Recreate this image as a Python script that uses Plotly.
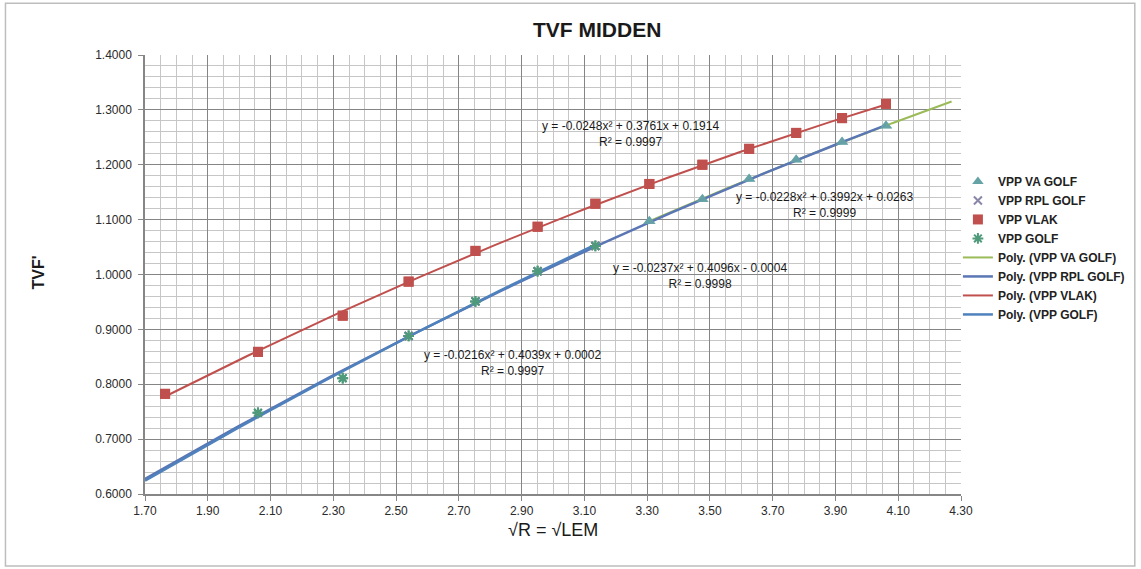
import numpy as np
import plotly.graph_objects as go

# ---- data ----
vlak_x = [1.764, 2.060, 2.330, 2.540, 2.753, 2.951, 3.135, 3.307, 3.476, 3.625, 3.775, 3.921, 4.061]
vlak_y = [0.7825, 0.859, 0.925, 0.987, 1.043, 1.087, 1.129, 1.165, 1.200, 1.229, 1.258, 1.285, 1.311]

golf_x = [2.060, 2.330, 2.540, 2.753, 2.951, 3.135]
golf_y = [0.748, 0.811, 0.888, 0.951, 1.006, 1.052]

rpl_x = [2.540, 2.753, 2.951, 3.135]
rpl_y = [0.888, 0.951, 1.006, 1.052]

va_x = [3.307, 3.476, 3.625, 3.775, 3.921, 4.061]
va_y = [1.097, 1.137, 1.174, 1.209, 1.2415, 1.271]

# trendline coefficients as printed on the chart (a, b, c for ax^2+bx+c)
coef_vlak = [-0.0248, 0.3761, 0.1914]
coef_va = [-0.0228, 0.3992, 0.0263]
coef_rpl = [-0.0237, 0.4096, -0.0004]
coef_golf = [-0.0216, 0.4039, 0.0002]
r2_vlak, r2_va, r2_rpl, r2_golf = "0.9997", "0.9999", "0.9998", "0.9997"

# trendline x ranges
rng_vlak = (1.764, 4.061)
rng_va = (3.307, 4.27)
rng_rpl = (1.70, 4.061)
rng_golf = (1.70, 3.135)

x_ticks = [1.70, 1.90, 2.10, 2.30, 2.50, 2.70, 2.90, 3.10, 3.30, 3.50, 3.70, 3.90, 4.10, 4.30]


def curve(coef, rng):
    xs = np.linspace(rng[0], rng[1], 80)
    return xs, np.polyval(coef, xs)


C_VA = "#9BBB59"
C_RPL = "#5A76B4"
C_VLAK = "#C0504D"
C_GOLF = "#4F81BD"
C_TRI = "#66A3A6"
FONT = "Liberation Sans, Arial, sans-serif"

fig = go.Figure()

# marker series (legend order)
fig.add_trace(go.Scatter(x=va_x, y=va_y, mode="markers", name="<b>VPP VA GOLF</b>",
                         marker=dict(symbol="triangle-up", size=10, color=C_TRI)))
fig.add_trace(go.Scatter(x=rpl_x, y=rpl_y, mode="markers", name="<b>VPP RPL GOLF</b>",
                         marker=dict(symbol="x-thin", size=8, line=dict(width=2, color="#8A86AA"), color="#8A86AA")))
fig.add_trace(go.Scatter(x=vlak_x, y=vlak_y, mode="markers", name="<b>VPP VLAK</b>",
                         marker=dict(symbol="square", size=10, color=C_VLAK)))
fig.add_trace(go.Scatter(x=golf_x, y=golf_y, mode="markers", name="<b>VPP GOLF</b>",
                         marker=dict(symbol="asterisk", size=9, line=dict(width=2, color="#4E9A7A"), color="#4E9A7A")))

# trendlines
for coef, rng, col, nm, w in [
    (coef_va, rng_va, C_VA, "VPP VA GOLF", 2),
    (coef_rpl, rng_rpl, C_RPL, "VPP RPL GOLF", 2.5),
    (coef_vlak, rng_vlak, C_VLAK, "VPP VLAK", 2),
    (coef_golf, rng_golf, C_GOLF, "VPP GOLF", 2.5),
]:
    xs, ys = curve(coef, rng)
    fig.add_trace(go.Scatter(x=xs, y=ys, mode="lines", name="<b>Poly. (" + nm + ")</b>",
                             line=dict(color=col, width=w)))

# redraw markers on top of lines (not in legend)
fig.add_trace(go.Scatter(x=va_x, y=va_y, mode="markers", showlegend=False,
                         marker=dict(symbol="triangle-up", size=11, color=C_TRI, opacity=0.9)))
fig.add_trace(go.Scatter(x=rpl_x, y=rpl_y, mode="markers", showlegend=False,
                         marker=dict(symbol="x-thin", size=8, line=dict(width=2, color="#8A86AA"))))
fig.add_trace(go.Scatter(x=vlak_x, y=vlak_y, mode="markers", showlegend=False,
                         marker=dict(symbol="square", size=10, color=C_VLAK)))
fig.add_trace(go.Scatter(x=golf_x, y=golf_y, mode="markers", showlegend=False,
                         marker=dict(symbol="asterisk", size=9, line=dict(width=2, color="#4E9A7A"))))


def eq_text(coef, r2):
    a, b, c = coef
    sign = "+" if c >= 0 else "-"
    return (f"y = {a:.4f}x² + {b:.4f}x {sign} {abs(c):.4f}<br>R² = {r2}")


eq_font = dict(family=FONT, size=12, color="#1a1a1a")
for coef, r2, (ax, ay) in [
    (coef_vlak, r2_vlak, (3.247, 1.256)),
    (coef_va, r2_va, (3.864, 1.126)),
    (coef_rpl, r2_rpl, (3.469, 0.998)),
    (coef_golf, r2_golf, (2.871, 0.8395)),
]:
    fig.add_annotation(x=ax, y=ay, xref="x", yref="y", text=eq_text(coef, r2), showarrow=False,
                       font=eq_font, align="center", xanchor="center", yanchor="middle")

# titles
fig.add_annotation(x=0.5545, y=1.057, xref="paper", yref="paper", text="<b>TVF MIDDEN</b>",
                   xanchor="center", yanchor="middle",
                   showarrow=False, font=dict(family=FONT, size=21, color="#1a1a1a"))
fig.add_annotation(x=0.5, y=-0.082, xref="paper", yref="paper", text="√R = √LEM",
                   xanchor="center", yanchor="middle",
                   showarrow=False, font=dict(family=FONT, size=18, color="#1a1a1a"))
fig.add_annotation(x=-0.131, y=0.505, xref="paper", yref="paper", text="<b>TVF'</b>", textangle=-90,
                   xanchor="center", yanchor="middle",
                   showarrow=False, font=dict(family=FONT, size=16, color="#1a1a1a"))

# chart border
fig.add_shape(type="rect", xref="paper", yref="paper", x0=-0.171, x1=1.213, y0=-0.164, y1=1.118,
              line=dict(color="#BDBDBD", width=1.5), layer="below")

axis_common = dict(showline=True, linecolor="#868686", linewidth=1.5, ticks="outside", ticklen=5,
                   tickcolor="#868686", tickwidth=1.2, mirror=False, zeroline=False,
                   gridcolor="#858585", gridwidth=1.3,
                   tickfont=dict(family=FONT, size=12, color="#2a2a2a"))

fig.update_xaxes(range=[1.70, 4.30], tickvals=x_ticks, tickformat=".2f",
                 minor=dict(dtick=0.05, tick0=1.70, showgrid=True, gridcolor="#C6C6C6", gridwidth=1, ticks=""),
                 **axis_common)
fig.update_yaxes(range=[0.6, 1.4], dtick=0.1, tick0=0.6, tickformat=".4f", ticklabelstandoff=4,
                 minor=dict(dtick=0.02, tick0=0.6, showgrid=True, gridcolor="#C6C6C6", gridwidth=1, ticks=""),
                 **axis_common)

fig.update_layout(
    width=1141, height=569,
    margin=dict(l=145, r=179, t=55, b=75),
    paper_bgcolor="white", plot_bgcolor="white",
    showlegend=True,
    legend=dict(x=0.995, y=0.745, xanchor="left", yanchor="top", bgcolor="rgba(0,0,0,0)",
                font=dict(family=FONT, size=12, color="#222222"),
                tracegroupgap=0, itemwidth=30),
)

fig.write_html("out.html", config={"displayModeBar": False},
               post_script="document.body.style.margin='0';document.body.style.overflow='hidden';")
